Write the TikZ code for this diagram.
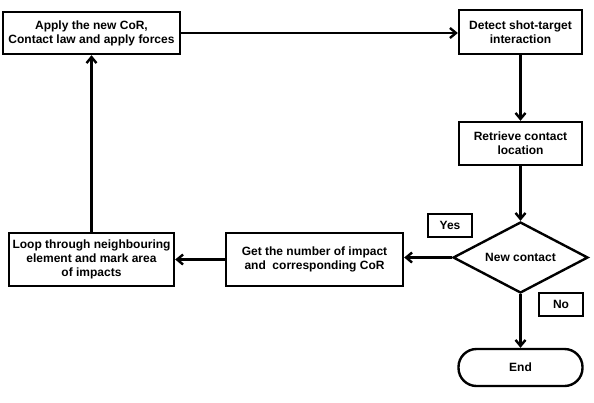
\documentclass[tikz,border=0pt]{standalone}
\usepackage{fontspec}
\setmainfont{Liberation Sans}
\usetikzlibrary{shapes.geometric,arrows.meta}

\tikzset{every picture/.style={line width=2.4pt}}
\tikzset{
  stepbox/.style={draw,rectangle,align=center,inner sep=0.75pt,font=\bfseries\fontsize{12}{14}\selectfont},
  decision/.style={draw,diamond,aspect=1.9,inner sep=0pt,minimum width=135pt,minimum height=71pt,font=\bfseries\fontsize{12}{14}\selectfont},
  tagbox/.style={draw,rectangle,inner sep=0pt,font=\bfseries\fontsize{12}{14}\selectfont},
  flow/.style={-{Straight Barb[length=6pt,width=10pt]}}
}

\begin{document}
\begin{tikzpicture}[x=1pt,y=1pt,yscale=-1,xscale=1]
\useasboundingbox (0,0) rectangle (594,402);

%Process boxes
\node [stepbox,minimum width=177pt,minimum height=42pt] (apply) at (91.5,33) {Apply the new CoR,\\Contact law and apply forces};
\node [stepbox,minimum width=123pt,minimum height=44pt] (detect) at (520.5,32) {Detect shot-target\\interaction};
\node [stepbox,minimum width=123pt,minimum height=43pt] (retrieve) at (520.5,143.5) {Retrieve contact\\location};
\node [stepbox,minimum width=177pt,minimum height=53pt] (getnum) at (314.5,259.5) {Get the number of impact\\and\ \ corresponding CoR};
\node [stepbox,minimum width=165pt,minimum height=53pt] (loop) at (91.5,259.5) {Loop through neighbouring\\element and mark area\\of impacts};

%Decision
\node [decision] (newc) at (520.5,257.5) {New contact};
\node [tagbox,minimum width=44pt,minimum height=23pt] (yes) at (450,225.5) {Yes};
\node [tagbox,minimum width=44pt,minimum height=23pt] (no) at (561,304.5) {No};

%Terminal
\node [draw,rectangle,rounded corners=18pt,minimum width=124pt,minimum height=37pt,font=\bfseries\fontsize{12}{14}\selectfont] (fin) at (520.5,367.5) {End};

%Connectors
\draw [flow] (apply.east) -- (detect.west |- apply.east);
\draw [flow] (detect) -- (retrieve);
\draw [flow] (retrieve) -- (newc.north);
\draw [flow] (newc.west) -- (getnum.east |- newc.west);
\draw [flow] (getnum) -- (loop);
\draw [flow] (loop) -- (apply);
\draw [flow] (newc.south) -- (fin);

\end{tikzpicture}
\end{document}
